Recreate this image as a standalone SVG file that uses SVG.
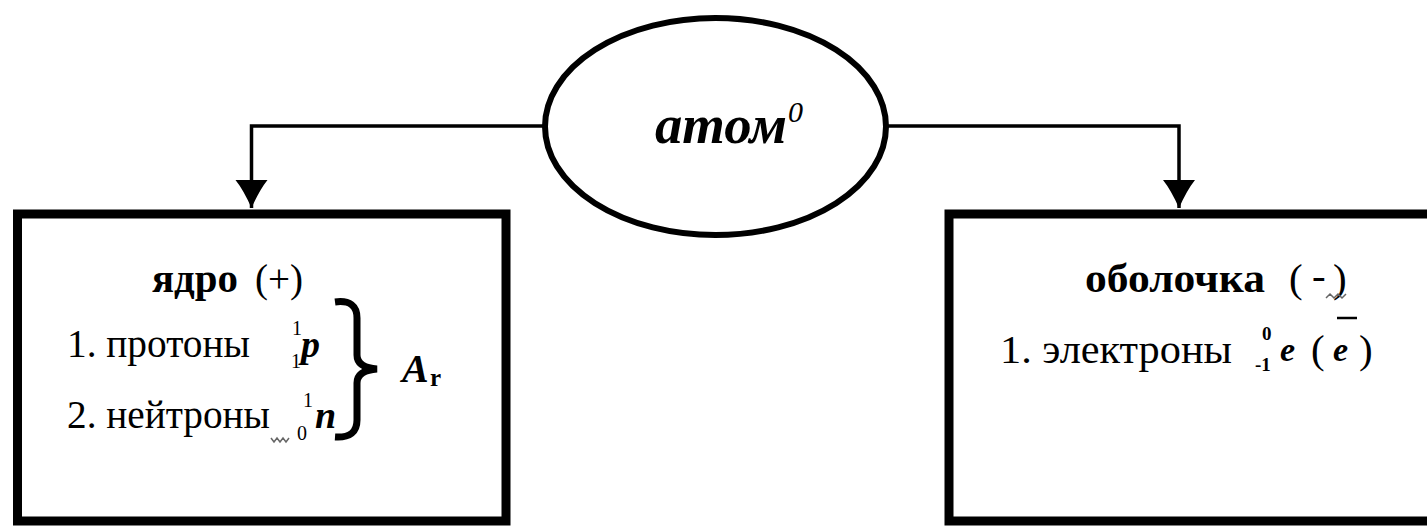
<svg xmlns="http://www.w3.org/2000/svg" width="1427" height="527" viewBox="0 0 1427 527">
<style>
  .t { font-family: "Liberation Serif", "Times New Roman", serif; fill: #000; }
  .b { font-weight: bold; }
  .bi { font-weight: bold; font-style: italic; }
  .i { font-style: italic; }
  .box { fill: #fff; stroke: #000; stroke-width: 9; }
  .conn { fill: none; stroke: #000; stroke-width: 3.5; }
  .sq { fill: none; stroke: #666; stroke-width: 1.5; }
</style>
<defs>
  <marker id="arr" markerUnits="userSpaceOnUse" markerWidth="32" markerHeight="34" viewBox="0 -17 30 34" refX="28" refY="0" orient="auto">
    <path d="M0,-16 Q10,-8 28,0 Q10,8 0,16 Z" fill="#000"/>
  </marker>
</defs>
<rect width="1427" height="527" fill="#fff"/>

<g id="connectors">
  <polyline class="conn" points="545,126 251.5,126 251.5,208" marker-end="url(#arr)"/>
  <polyline class="conn" points="886,126 1179,126 1179,208" marker-end="url(#arr)"/>
</g>

<g id="atom">
  <ellipse cx="715.5" cy="126.5" rx="170.5" ry="108.5" fill="#fff" stroke="#000" stroke-width="6"/>
  <text class="t bi" x="655" y="143" font-size="54" textLength="132" lengthAdjust="spacingAndGlyphs">атом</text>
  <text class="t i" x="788" y="122" font-size="30">0</text>
</g>

<g id="nucleus">
  <rect class="box" x="17.5" y="214" width="488.5" height="307"/>
  <text class="t b" x="152" y="292" font-size="41" textLength="86" lengthAdjust="spacingAndGlyphs">ядро</text>
  <text class="t" x="255" y="292" font-size="41" textLength="48" lengthAdjust="spacingAndGlyphs">(+)</text>
  <text class="t" x="67" y="357" font-size="41" textLength="183" lengthAdjust="spacingAndGlyphs">1. протоны</text>
  <text class="t" x="292" y="335" font-size="20">1</text>
  <text class="t" x="291" y="368" font-size="20">1</text>
  <text class="t bi" x="301" y="357" font-size="38">p</text>
  <text class="t" x="67" y="428" font-size="41" textLength="203" lengthAdjust="spacingAndGlyphs">2. нейтроны</text>
  <text class="t" x="303" y="407" font-size="20">1</text>
  <text class="t" x="297" y="440" font-size="20">0</text>
  <text class="t bi" x="315" y="428" font-size="38">n</text>
  <path class="sq" d="M271,438 l3,4 l3,-4 l3,4 l3,-4 l3,4 l3,-4"/>
  <path d="M335,302 C350,300 357,306 357,318 L357,355 C357,364 364,368 377,369 C364,370 357,374 357,383 L357,420 C357,432 350,438 335,437" fill="none" stroke="#000" stroke-width="7"/>
  <text class="t bi" x="402" y="382" font-size="40">A</text>
  <text class="t b" x="430" y="386" font-size="25">r</text>
</g>

<g id="shell">
  <rect class="box" x="949" y="214" width="500" height="307"/>
  <text class="t b" x="1085" y="292" font-size="41" textLength="180" lengthAdjust="spacingAndGlyphs">оболочка</text>
  <text class="t" x="1289" y="292" font-size="41">(</text>
  <text class="t" x="1312" y="289" font-size="41">-</text>
  <text class="t" x="1333" y="292" font-size="41">)</text>
  <path class="sq" d="M1326,298 l4,-4 l4,4 l4,-4 l4,4 l4,-4"/>
  <text class="t" x="1000" y="363" font-size="41" textLength="232" lengthAdjust="spacingAndGlyphs">1. электроны</text>
  <text class="t b" x="1262" y="340" font-size="19">0</text>
  <text class="t b" x="1255" y="371" font-size="19">-1</text>
  <text class="t bi" x="1280" y="361" font-size="34">e</text>
  <text class="t" x="1311" y="363" font-size="41">(</text>
  <text class="t bi" x="1333" y="361" font-size="34">e</text>
  <line x1="1337" y1="318" x2="1357" y2="318" stroke="#000" stroke-width="2.5"/>
  <text class="t" x="1359" y="363" font-size="41">)</text>
</g>
</svg>
